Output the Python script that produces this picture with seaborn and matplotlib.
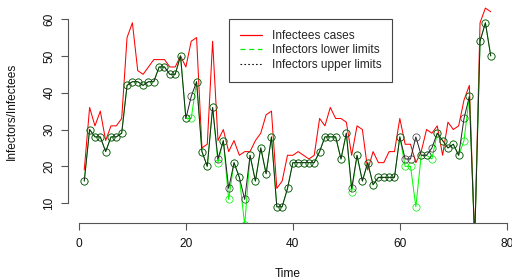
import numpy as np
import pandas as pd
import matplotlib
matplotlib.use('Agg')
import matplotlib.pyplot as plt
import seaborn as sns
from matplotlib.lines import Line2D

#### Data

time = list(range(1, 78))

infectees = [19, 36, 31, 35, 27, 31, 31, 33, 55, 59,
             46, 45, 47, 49, 49, 49, 47, 47, 50, 47,
             54, 55, 25, 26, 54, 27, 30, 24, 27, 23,
             24, 24, 27, 29, 34, 35, 14, 16, 23, 23,
             24, 23, 22, 23, 33, 31, 36, 33, 33, 32,
             23, 31, 30, 19, 24, 21, 21, 24, 24, 33,
             26, 26, 21, 24, 30, 29, 31, 23, 32, 30,
             31, 38, 42, 0, 59, 63, 62]

upper = [16, 30, 28, 28, 24, 28, 28, 29, 42, 43,
         43, 42, 43, 43, 47, 47, 45, 45, 50, 33,
         39, 43, 24, 20, 36, 22, 27, 14, 21, 17,
         11, 23, 16, 25, 18, 28, 9, 9, 14, 21,
         21, 21, 21, 21, 24, 28, 28, 28, 22, 29,
         14, 23, 16, 21, 15, 17, 17, 17, 17, 28,
         22, 22, 28, 23, 23, 25, 29, 27, 25, 26,
         23, 33, 39, 0, 54, 59, 50]

lower = [16, 30, 28, 28, 24, 28, 28, 29, 42, 43,
         43, 42, 43, 43, 47, 47, 45, 45, 50, 33,
         33, 43, 24, 20, 36, 21, 27, 11, 21, 17,
         4, 23, 16, 25, 18, 28, 9, 9, 14, 21,
         21, 21, 21, 21, 24, 28, 28, 28, 22, 29,
         13, 23, 16, 21, 15, 17, 17, 17, 17, 28,
         20, 20, 9, 23, 23, 22, 29, 27, 25, 26,
         23, 27, 39, 0, 54, 59, 50]

x_ticks = [0, 20, 40, 60, 80]
y_ticks = [10, 20, 30, 40, 50, 60]

df = pd.DataFrame({'Time': time, 'infectees': infectees,
                   'lower': lower, 'upper': upper})

#### Graphics

sns.set_style('ticks')
plt.rcParams['font.family'] = ['Liberation Sans', 'DejaVu Sans']
fs = 8.6

fig = plt.figure(figsize=(5.12, 2.8), dpi=100)
ax = fig.add_axes([68 / 512, 57 / 280, 439 / 512, 223 / 280])

sns.lineplot(data=df, x='Time', y='infectees', color='#ff0000',
             lw=0.75, ax=ax, sort=False)
sns.lineplot(data=df, x='Time', y='lower', color='#00ff00', lw=0.75,
             marker='o', markersize=5.2, markerfacecolor='none',
             markeredgecolor='#00ee00', markeredgewidth=0.5, ax=ax, sort=False)
sns.lineplot(data=df, x='Time', y='upper', color='#222222', lw=0.7,
             marker='o', markersize=5.2, markerfacecolor='none',
             markeredgecolor='#333333', markeredgewidth=0.5, ax=ax, sort=False)

ax.set_xlim(-2.04, 80.04)
ax.set_ylim(4.6, 65.2)
ax.set_xticks(x_ticks)
ax.set_yticks(y_ticks)
ax.tick_params(labelsize=fs, length=5, width=0.8, color='#555555',
               labelcolor='#111111')
ax.tick_params(axis='x', pad=6)
ax.tick_params(axis='y', pad=4, labelrotation=90)
for lab in ax.get_yticklabels():
    lab.set_va('center')

sns.despine(ax=ax)
ax.spines['left'].set_bounds(10, 60)
ax.spines['bottom'].set_bounds(0, 80)
for s in ['left', 'bottom']:
    ax.spines[s].set_color('#555555')
    ax.spines[s].set_linewidth(0.8)

ax.set_xlabel('Time', fontsize=fs, va='center', color='#111111')
ax.set_ylabel('Infectors/Infectees', fontsize=fs, va='center', color='#111111')
ax.xaxis.set_label_coords(0.5, -0.229)
ax.yaxis.set_label_coords(-0.128, 0.5)

handles = [Line2D([], [], color='red', lw=0.9),
           Line2D([], [], color='#00ee00', lw=0.9, ls=(0, (4, 3))),
           Line2D([], [], color='#111111', lw=0.8, ls=(0, (1.5, 2)))]
labels = ['Infectees cases', 'Infectors lower limits', 'Infectors upper limits']
leg = ax.legend(handles, labels, loc='upper left',
                bbox_to_anchor=((229 - 68) / 439, 1 - 19 / 223),
                fontsize=fs, frameon=True, fancybox=False, framealpha=1,
                handlelength=1.85, handletextpad=0.85, labelspacing=0.22,
                borderpad=0.9, borderaxespad=0)
leg.get_frame().set_edgecolor('#444444')
leg.get_frame().set_linewidth(0.8)

plt.savefig('out.png', dpi=100)
